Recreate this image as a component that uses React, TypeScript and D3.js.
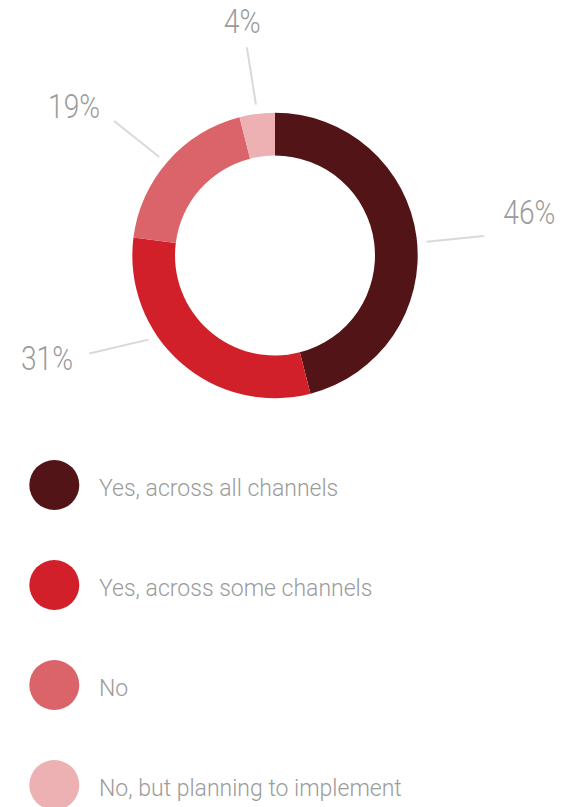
import React from "react";
import * as d3 from "d3";

const categories = [
  "Yes, across all channels",
  "Yes, across some channels",
  "No",
  "No, but planning to implement",
];
const values = [46, 31, 19, 4];
const labels = ["46%", "31%", "19%", "4%"];
const colors = ["#521416", "#D2202A", "#DB646A", "#EDB1B3"];

// layout (degrees clockwise from 12 o'clock) for leader lines and labels
const lineAngleStart = [84.8, 236.4, 310.4, 352.8];
const lineAngleEnd = [84.7, 242.2, 309.9, 352.3];
const labelAngle = [80.3, 245.6, 306.5, 352];
const labelRadius = [258, 250.4, 250, 235.8];

const W = 575;
const H = 807;
const cx = 275;
const cy = 255.5;
const rOuter = 142.7;
const rInner = 100;
const lineR1 = 152;
const lineR2 = 210;

function polar(angleDeg: number, r: number): [number, number] {
  const a = (angleDeg * Math.PI) / 180;
  return [cx + r * Math.sin(a), cy - r * Math.cos(a)];
}

export default function App() {
  const pie = d3.pie<number>().sort(null).value((d) => d);
  const arcs = pie(values);
  const arcGen = d3
    .arc<d3.PieArcDatum<number>>()
    .innerRadius(rInner)
    .outerRadius(rOuter);
  const ringGen = d3.arc<any>()({
    innerRadius: rInner,
    outerRadius: rOuter,
    startAngle: 0,
    endAngle: 2 * Math.PI,
  } as any);

  const legendY = d3
    .scalePoint<string>()
    .domain(categories)
    .range([485, 785]);

  const font = "Roboto, 'Helvetica Neue', Arial, sans-serif";

  return (
    <svg
      width={W}
      height={H}
      style={{ position: "absolute", left: 0, top: 0, display: "block" }}
    >
      <defs>
        <radialGradient
          id="innerShade"
          gradientUnits="userSpaceOnUse"
          cx={cx}
          cy={cy}
          r={rOuter}
        >
          <stop offset={rInner / rOuter} stopColor="#000" stopOpacity={0.22} />
          <stop offset={(rInner + 22) / rOuter} stopColor="#000" stopOpacity={0} />
          <stop offset={1} stopColor="#000" stopOpacity={0} />
        </radialGradient>
      </defs>
      <rect width={W} height={H} fill="#fff" />
      <g transform={`translate(${cx},${cy})`}>
        {arcs.map((a, i) => (
          <path key={i} d={arcGen(a) || ""} fill={colors[i]} />
        ))}
      </g>
      <path
        d={ringGen || ""}
        transform={`translate(${cx},${cy})`}
        fill="url(#innerShade)"
      />
      {arcs.map((a, i) => {
        const [x1, y1] = polar(lineAngleStart[i], lineR1);
        const [x2, y2] = polar(lineAngleEnd[i], lineR2);
        const [tx, ty] = polar(labelAngle[i], labelRadius[i]);
        return (
          <g key={"l" + i}>
            <line
              x1={x1}
              y1={y1}
              x2={x2}
              y2={y2}
              stroke="#d9d9d9"
              strokeWidth={2}
            />
            <text
              x={tx}
              y={ty + 11.5}
              textAnchor="middle"
              fontFamily={font}
              fontWeight={300}
              fontSize={33}
              textLength={labels[i].length === 2 ? 37 : 52}
              lengthAdjust="spacingAndGlyphs"
              fill="#9b9b9b"
            >
              {labels[i]}
            </text>
          </g>
        );
      })}
      {categories.map((c, i) => {
        const y = legendY(c) as number;
        return (
          <g key={"lg" + i}>
            <circle cx={54.3} cy={y} r={25} fill={colors[i]} />
            <text
              x={99}
              y={y + 11}
              fontFamily={font}
              fontWeight={300}
              fontSize={23}
              fill="#9b9b9b"
            >
              {c}
            </text>
          </g>
        );
      })}
    </svg>
  );
}
